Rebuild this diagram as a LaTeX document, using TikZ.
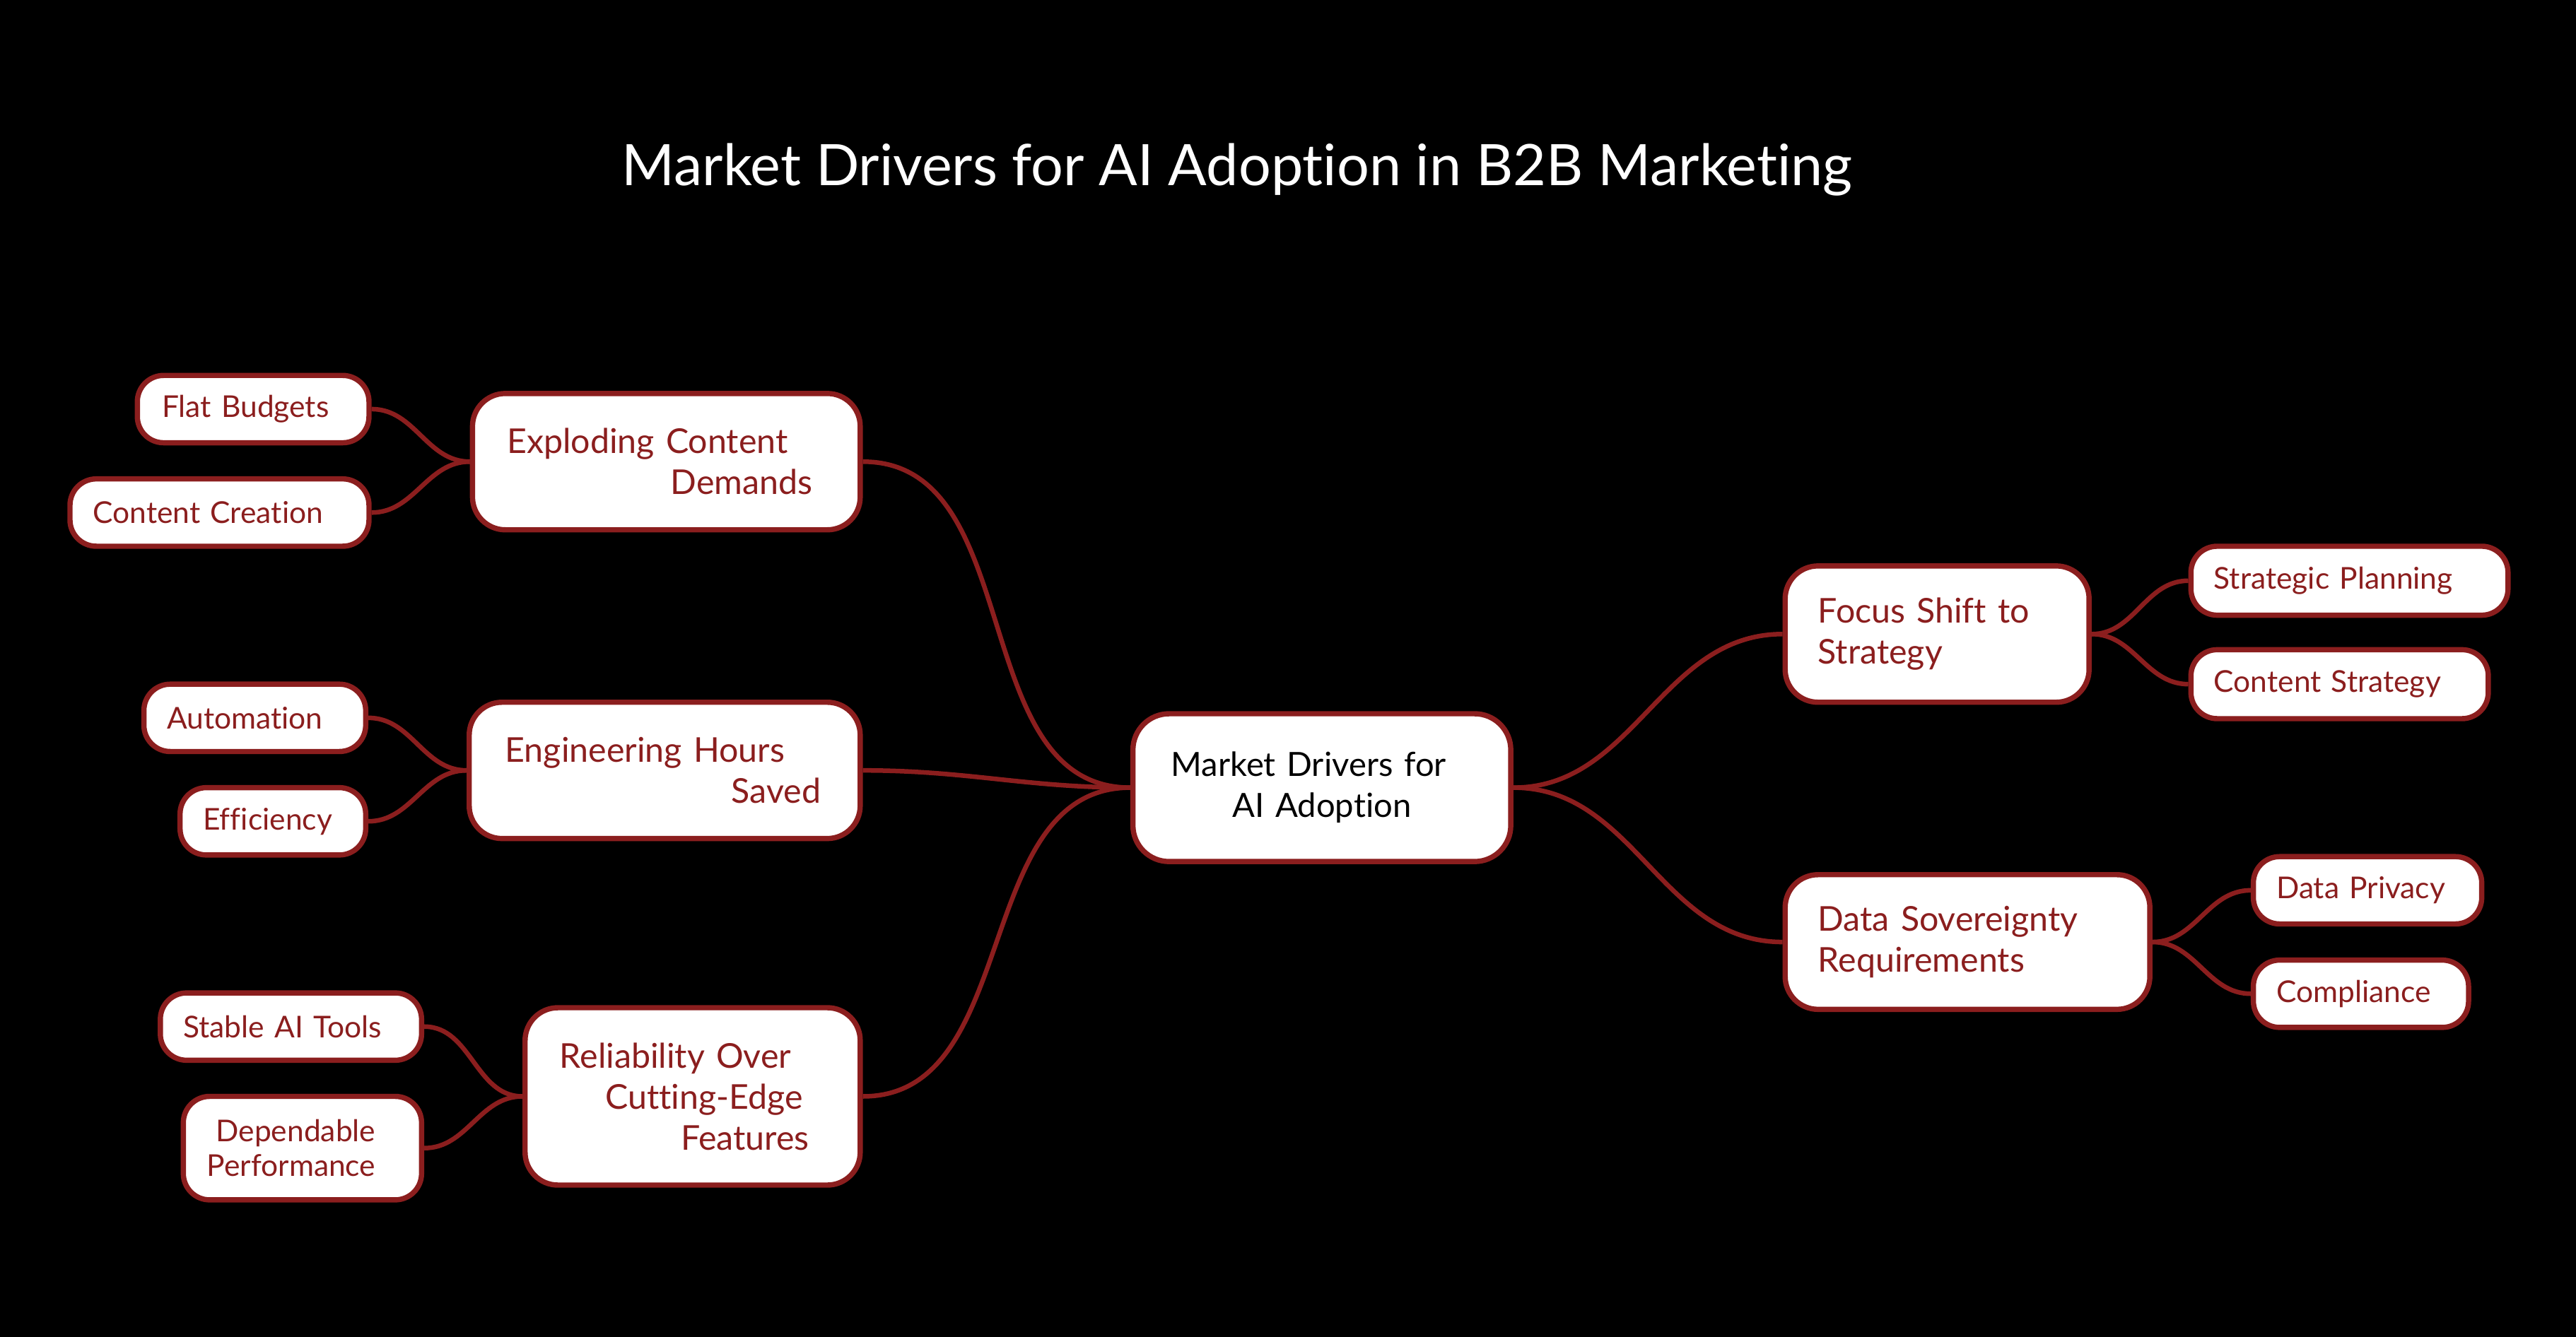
\documentclass[tikz,border=0pt]{standalone}
\usepackage{fontspec}
\setmainfont{Lato}[Ligatures=NoCommon]
\definecolor{dred}{RGB}{139,30,30}
\newcommand{\trail}[1]{\hspace*{#1}\null}
\tikzset{
 box/.style={draw=dred, fill=white, line width=3.2pt, rounded corners=20pt, anchor=north west, inner ysep=0pt, text=dred},
 leaf/.style={box, rounded corners=16pt, minimum height=41pt, font=\fontsize{18.3}{21}\selectfont, align=left, inner xsep=14pt},
 parent/.style={box, font=\fontsize{20.8}{25}\selectfont},
 link/.style={draw=dred, line width=2.8pt},
}
\begin{document}
\begin{tikzpicture}[x=1pt,y=-1pt]
\fill[black] (0,0) rectangle (1568,814);
\useasboundingbox (0,0) rectangle (1568,814);
\node[text=white, font=\fontsize{34.8}{40}\selectfont, anchor=base] (title) at (753,113) {Market Drivers for AI Adoption in B2B Marketing};

\node[parent, rounded corners=22pt, text=black, font=\fontsize{20.3}{25}\selectfont, minimum height=90pt, text width=206pt, inner xsep=12pt, align=center] (central) at (688,433) {Market Drivers for\trail{16pt}\\AI Adoption};

\node[parent, minimum height=83pt, text width=212pt, inner xsep=12pt, align=right] (exp) at (286,238) {Exploding Content\trail{32pt}\\Demands\trail{17pt}};
\node[parent, minimum height=83pt, text width=214pt, inner xsep=12pt, align=right] (eng) at (284,426) {Engineering Hours\trail{34pt}\\Saved\trail{12pt}};
\node[parent, minimum height=108pt, text width=180pt, inner xsep=12pt, align=right] (rel) at (318,612) {Reliability Over\trail{30pt}\\Cutting-Edge\trail{23pt}\\Features\trail{19pt}};
\node[parent, minimum height=83pt, text width=145pt, inner xsep=20pt, align=left] (foc) at (1085,343) {Focus Shift to\\Strategy};
\node[parent, minimum height=82pt, text width=182pt, inner xsep=20pt, align=left] (dsr) at (1085,531) {Data Sovereignty\\Requirements};

\node[leaf, text width=111pt, inner xsep=15pt] (fb) at (82,227) {Flat Budgets};
\node[leaf, text width=154pt] (cc) at (41,290) {Content Creation};
\node[leaf, text width=107pt] (au) at (86,415) {Automation};
\node[leaf, text width=85pt] (ef) at (108,478) {Efficiency};
\node[leaf, text width=131pt] (st) at (96,603) {Stable AI Tools};
\node[leaf, minimum height=63pt, text width=125pt, inner xsep=10pt, align=right] (dp) at (110,666) {Dependable\trail{18pt}\\Performance\trail{18pt}};
\node[leaf, minimum height=42pt, text width=165pt] (sp) at (1332,331) {Strategic Planning};
\node[leaf, minimum height=42pt, text width=153pt] (cs) at (1332,394) {Content Strategy};
\node[leaf, text width=111pt] (dpv) at (1370,520) {Data Privacy};
\node[leaf, text width=103pt] (co) at (1370,583) {Compliance};

\draw[link] (exp.east) to[out=0,in=180] (central.west);
\draw[link] (eng.east) to[out=0,in=180] (central.west);
\draw[link] (rel.east) to[out=0,in=180] (central.west);
\draw[link] (central.east) to[out=0,in=180] (foc.west);
\draw[link] (central.east) to[out=0,in=180] (dsr.west);

\draw[link] (fb.east) to[out=0,in=180] (exp.west);
\draw[link] (cc.east) to[out=0,in=180] (exp.west);
\draw[link] (au.east) to[out=0,in=180] (eng.west);
\draw[link] (ef.east) to[out=0,in=180] (eng.west);
\draw[link] (st.east) to[out=0,in=180] (rel.west);
\draw[link] (dp.east) to[out=0,in=180] (rel.west);
\draw[link] (foc.east) to[out=0,in=180] (sp.west);
\draw[link] (foc.east) to[out=0,in=180] (cs.west);
\draw[link] (dsr.east) to[out=0,in=180] (dpv.west);
\draw[link] (dsr.east) to[out=0,in=180] (co.west);
\end{tikzpicture}
\end{document}
